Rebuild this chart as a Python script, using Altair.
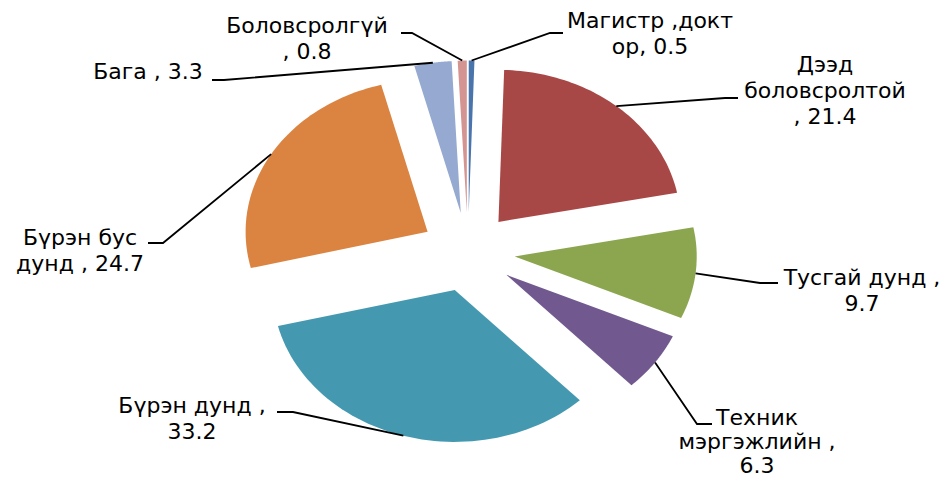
import altair as alt
import pandas as pd

# ---------------- data ----------------
categories = [
    "Магистр,доктор",
    "Дээд боловсролтой",
    "Тусгай дунд",
    "Техник мэргэжлийн",
    "Бүрэн дунд",
    "Бүрэн бус дунд",
    "Бага",
    "Боловсролгүй",
]
values = [0.5, 21.4, 9.7, 6.3, 33.2, 24.7, 3.3, 0.8]
colors = ["#4A74AC", "#A84846", "#8BA64F", "#71598F", "#4499B0", "#DB8441", "#95A9D1", "#D49592"]
label_texts = [
    "Магистр ,докт\nор, 0.5",
    "Дээд\nболовсролтой\n, 21.4",
    "Тусгай дунд ,\n9.7",
    "Техник\nмэргэжлийн ,\n6.3",
    "Бүрэн дунд ,\n33.2",
    "Бүрэн бус\nдунд , 24.7",
    "Бага , 3.3",
    "Боловсролгүй\n, 0.8",
]

# ---------------- layout (page pixel units) ----------------
CX, CY = 468, 252          # pie centre
RX, RY = 182, 152          # slice radii (stretched pie)
EX, EY = 47, 39.5          # explosion offset
N = 60                     # points along each arc

label_x = [650, 825, 862, 757, 192, 80, 148, 307]
label_y = [28, 72, 285, 425, 413, 245, 79, 33]
label_lh = [26, 26, 26, 24, 26, 26, 26, 26]
elbow_x = [550, 725, 760, 697, 293, 163, 224, 412]
elbow_y = [33, 98, 283, 424, 412, 243, 80, 33]
end_x = [563, 738, 778, 712, 277, 148, 212, 401]
end_y = [33, 98, 283, 424, 412, 243, 80, 33]

df = pd.DataFrame({
    "cat": categories,
    "value": values,
    "color": colors,
    "label": label_texts,
    "order": list(range(len(categories))),
    "lx": label_x, "ly": label_y,
    "e1x": elbow_x, "e1y": elbow_y,
    "e2x": end_x, "e2y": end_y,
})

xs = alt.Scale(domain=[8, 942], zero=False, nice=False)
ys = alt.Scale(domain=[8, 478], zero=False, nice=False, reverse=True)

base = (
    alt.Chart(df)
    .transform_joinaggregate(total="sum(value)")
    .transform_window(cum="sum(value)", sort=[alt.SortField("order")], frame=[None, 0])
    .transform_calculate(a0="2*PI*(datum.cum - datum.value)/datum.total")
    .transform_calculate(a1="2*PI*datum.cum/datum.total")
    .transform_calculate(mid="(datum.a0 + datum.a1)/2")
    .transform_calculate(vx=f"{CX} + {EX}*sin(datum.mid)")
    .transform_calculate(vy=f"{CY} - {EY}*cos(datum.mid)")
)

slices = (
    base.transform_calculate(pts=f"sequence(0, {N + 2})")
    .transform_flatten(["pts"])
    .transform_calculate(t=f"datum.a0 + (datum.a1 - datum.a0)*min(datum.pts, {N})/{N}")
    .transform_calculate(px=f"datum.pts > {N} ? datum.vx : datum.vx + {RX}*sin(datum.t)")
    .transform_calculate(py=f"datum.pts > {N} ? datum.vy : datum.vy - {RY}*cos(datum.t)")
    .mark_line(filled=True, interpolate="linear-closed", strokeWidth=0)
    .encode(
        x=alt.X("px:Q", scale=xs, axis=None),
        y=alt.Y("py:Q", scale=ys, axis=None),
        color=alt.Color("color:N", scale=None, legend=None),
        order=alt.Order("pts:Q"),
        detail="cat:N",
    )
)

leaders = (
    base.transform_calculate(sx=f"datum.vx + {RX}*sin(datum.mid)")
    .transform_calculate(sy=f"datum.vy - {RY}*cos(datum.mid)")
    .transform_calculate(k="[0, 1, 2]")
    .transform_flatten(["k"])
    .transform_calculate(qx="datum.k == 0 ? datum.sx : (datum.k == 1 ? datum.e1x : datum.e2x)")
    .transform_calculate(qy="datum.k == 0 ? datum.sy : (datum.k == 1 ? datum.e1y : datum.e2y)")
    .mark_line(color="black", strokeWidth=1.8)
    .encode(
        x=alt.X("qx:Q", scale=xs, axis=None),
        y=alt.Y("qy:Q", scale=ys, axis=None),
        order=alt.Order("k:Q"),
        detail="cat:N",
    )
)

text_layers = []
for i in range(len(categories)):
    text_layers.append(
        alt.Chart(df.iloc[[i]])
        .mark_text(font="DejaVu Sans", fontSize=22, lineBreak="\n", align="center",
                   baseline="alphabetic", lineHeight=label_lh[i], color="black")
        .encode(
            x=alt.X("lx:Q", scale=xs, axis=None),
            y=alt.Y("ly:Q", scale=ys, axis=None),
            text="label:N",
        )
    )

chart = (
    alt.layer(slices, leaders, *text_layers)
    .properties(width=934, height=470, padding=0, autosize="none", background="white")
    .configure_view(stroke=None)
)

chart.save("out.html", embed_options={"renderer": "svg", "actions": False})
